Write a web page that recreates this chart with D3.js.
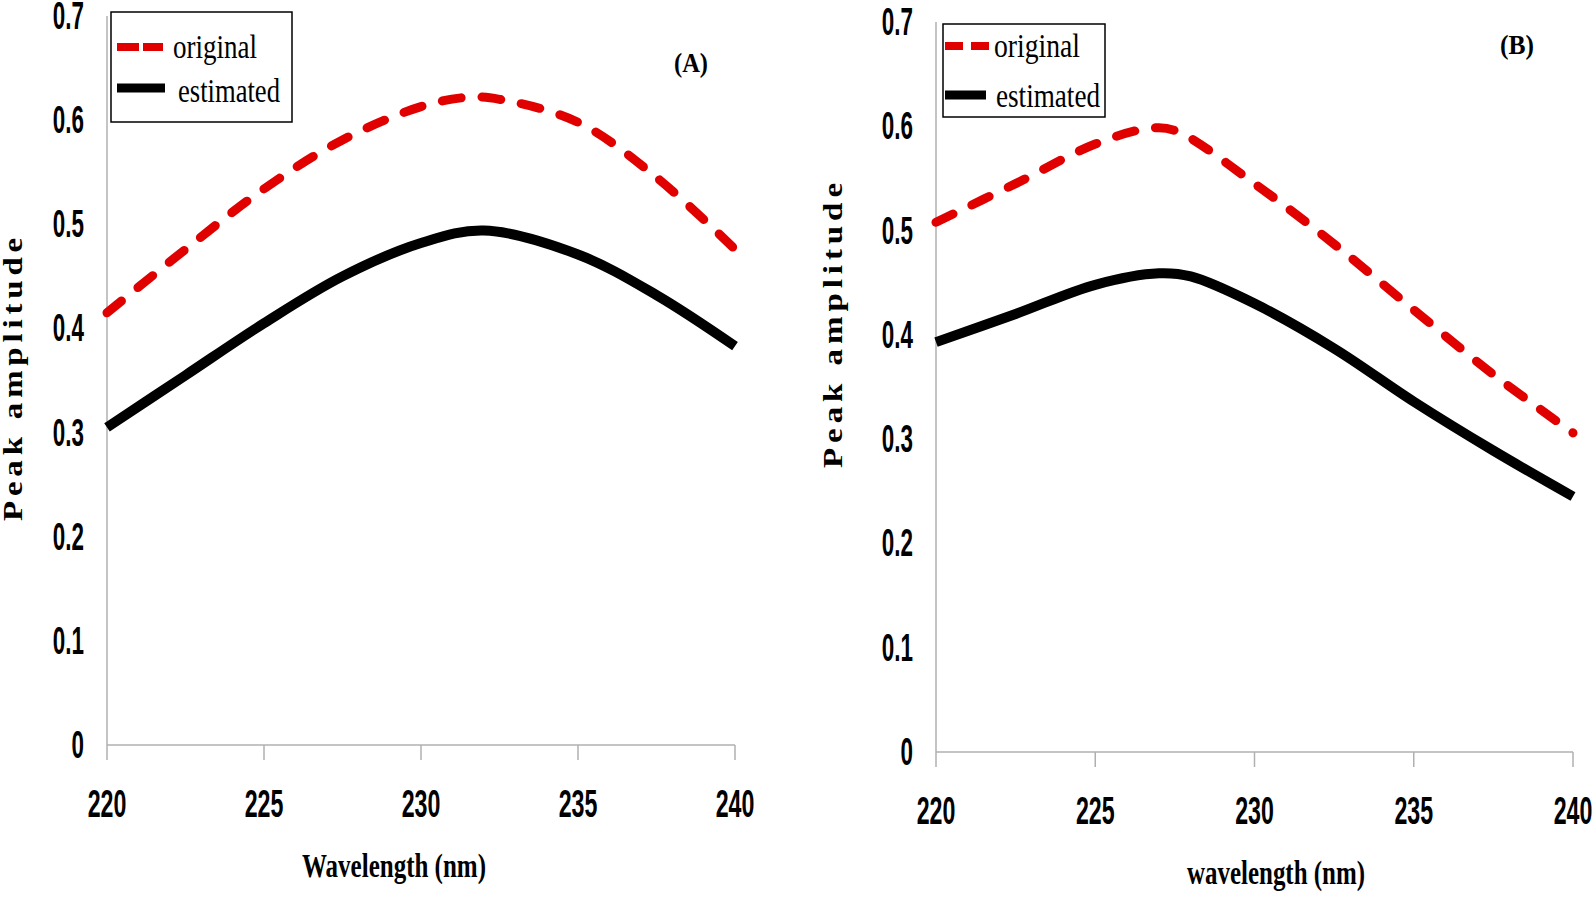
<!DOCTYPE html>
<html>
<head>
<meta charset="utf-8">
<script src="https://cdn.jsdelivr.net/npm/d3@7"></script>
<style>
  body { margin: 0; background: #fff; }
  .tick-label { font-family: "Liberation Sans", Arial, sans-serif; font-weight: bold; font-size: 38px; fill: #000; }
  .serif { font-family: "Liberation Serif", "DejaVu Serif", serif; fill: #000; }
</style>
</head>
<body>
<svg id="chart" width="1594" height="898"></svg>
<script>
// ---- data ----
var xTicks = [220, 225, 230, 235, 240];
var yTicks = [0, 0.1, 0.2, 0.3, 0.4, 0.5, 0.6, 0.7];

var wlA = [220, 222.5, 225, 227.5, 230, 231.5, 232.5, 235, 237.5, 240];
var originalA = [0.415, 0.476, 0.534, 0.581, 0.613, 0.622, 0.620, 0.598, 0.545, 0.476];
var wlA2 = [220, 222.5, 225, 227.5, 230, 232, 235, 237.5, 240];
var estimatedA = [0.305, 0.355, 0.405, 0.450, 0.482, 0.494, 0.471, 0.432, 0.383];

var wlB = [220, 222.5, 225, 226.7, 227.5, 230, 232.5, 235, 237.5, 240];
var originalB = [0.508, 0.545, 0.583, 0.598, 0.596, 0.545, 0.487, 0.424, 0.362, 0.306];
var wlB2 = [220, 222.5, 225, 227, 228, 230, 232.5, 235, 237.5, 240];
var estimatedB = [0.393, 0.420, 0.448, 0.459, 0.456, 0.430, 0.387, 0.336, 0.289, 0.245];

var svg = d3.select('#chart');

function zip(xs, ys) { return xs.map(function(x, i) { return [x, ys[i]]; }); }

// squeeze text horizontally, the source font is a condensed face
function condense(sel, k) {
  sel.each(function() {
    var w = this.getComputedTextLength();
    d3.select(this).attr('textLength', w * k).attr('lengthAdjust', 'spacingAndGlyphs');
  });
}

function panel(o) {
  var x = d3.scaleLinear().domain([220, 240]).range([o.x0, o.x1]);
  var y = d3.scaleLinear().domain([0, 0.7]).range([o.y0, o.y1]);
  var g = svg.append('g');

  // axes (gray lines, x ticks hang down)
  g.append('line').attr('x1', o.x0).attr('x2', o.x0).attr('y1', o.y0).attr('y2', o.y1)
    .style('stroke', '#b0b0b0').style('stroke-width', 1.5);
  g.append('line').attr('x1', o.x0).attr('x2', o.x1).attr('y1', o.y0).attr('y2', o.y0)
    .style('stroke', '#b0b0b0').style('stroke-width', 1.5);
  g.selectAll('.xt').data(xTicks).enter().append('line')
    .attr('x1', x).attr('x2', x).attr('y1', o.y0).attr('y2', o.y0 + 15)
    .style('stroke', '#b0b0b0').style('stroke-width', 1.5);

  g.selectAll('.xl').data(xTicks).enter().append('text')
    .attr('class', 'tick-label').attr('text-anchor', 'middle')
    .attr('x', x).attr('y', o.y0 + o.xLabelDy).text(function(d) { return d; })
    .call(condense, 0.61);
  g.selectAll('.yl').data(yTicks).enter().append('text')
    .attr('class', 'tick-label').attr('text-anchor', 'end')
    .attr('x', o.x0 - 23).attr('y', function(d) { return y(d) + 13; })
    .text(function(d) { return d === 0 ? '0' : d3.format('.1f')(d); })
    .call(condense, 0.59);

  // axis titles
  g.append('text').attr('class', 'serif')
    .attr('x', o.xt.x).attr('y', o.xt.y)
    .attr('textLength', o.xt.len).attr('lengthAdjust', 'spacingAndGlyphs')
    .style('font-size', '34px').style('font-weight', 'bold')
    .text(o.xt.text);
  g.append('text').attr('class', 'serif')
    .attr('transform', 'translate(' + o.yt.x + ',' + o.yt.y + ') rotate(-90)')
    .attr('textLength', o.yt.len).attr('lengthAdjust', 'spacingAndGlyphs')
    .style('font-size', '27px').style('font-weight', 'bold').style('letter-spacing', '4px')
    .text('Peak amplitude');

  g.append('text').attr('class', 'serif')
    .attr('x', o.tag.x).attr('y', o.tag.y).attr('text-anchor', 'middle')
    .style('font-size', '28px').style('font-weight', 'bold')
    .attr('textLength', 34).attr('lengthAdjust', 'spacingAndGlyphs')
    .text(o.tag.text);

  var line = d3.line().x(function(d) { return x(d[0]); }).y(function(d) { return y(d[1]); })
    .curve(d3.curveCatmullRom.alpha(0.5));

  g.append('path').datum(zip(o.wl2, o.est)).attr('d', line)
    .style('fill', 'none').style('stroke', '#000').style('stroke-width', 10);
  g.append('path').datum(zip(o.wl, o.orig)).attr('d', line)
    .style('fill', 'none').style('stroke', '#e00000').style('stroke-width', 9)
    .style('stroke-linecap', 'round').style('stroke-dasharray', '19,21');

  // legend
  var L = o.leg;
  g.append('rect').attr('x', L.x).attr('y', L.y).attr('width', L.w).attr('height', L.h)
    .style('fill', '#fff').style('stroke', '#000').style('stroke-width', 1.5);
  g.append('line').attr('x1', L.r[0]).attr('x2', L.r[1]).attr('y1', L.r[2]).attr('y2', L.r[2])
    .style('stroke', '#e00000').style('stroke-width', 8).style('stroke-dasharray', L.dash);
  g.append('line').attr('x1', L.k[0]).attr('x2', L.k[1]).attr('y1', L.k[2]).attr('y2', L.k[2])
    .style('stroke', '#000').style('stroke-width', 9);
  g.append('text').attr('class', 'serif').attr('x', L.t1[0]).attr('y', L.t1[1])
    .attr('textLength', L.t1[2]).attr('lengthAdjust', 'spacingAndGlyphs')
    .style('font-size', '33px').text('original');
  g.append('text').attr('class', 'serif').attr('x', L.t2[0]).attr('y', L.t2[1])
    .attr('textLength', L.t2[2]).attr('lengthAdjust', 'spacingAndGlyphs')
    .style('font-size', '33px').text('estimated');
}

panel({
  x0: 107, x1: 735, y0: 745, y1: 16, xLabelDy: 72,
  wl: wlA, orig: originalA, wl2: wlA2, est: estimatedA,
  xt: { x: 302, y: 877, len: 184, text: 'Wavelength (nm)' },
  yt: { x: 22, y: 521, len: 288 },
  tag: { x: 691, y: 72, text: '(A)' },
  leg: { x: 111, y: 12, w: 181, h: 110, dash: '22,4',
         r: [117, 163, 47], k: [117, 165, 88],
         t1: [173, 58, 84], t2: [178, 102, 102] }
});

panel({
  x0: 936, x1: 1573, y0: 752, y1: 22, xLabelDy: 72,
  wl: wlB, orig: originalB, wl2: wlB2, est: estimatedB,
  xt: { x: 1187, y: 884, len: 178, text: 'wavelength (nm)' },
  yt: { x: 842, y: 468, len: 290 },
  tag: { x: 1517, y: 54, text: '(B)' },
  leg: { x: 943, y: 24, w: 162, h: 93, dash: '18,8',
         r: [945, 991, 46], k: [945, 986, 95],
         t1: [994, 57, 86], t2: [996, 107, 104] }
});
</script>
</body>
</html>
